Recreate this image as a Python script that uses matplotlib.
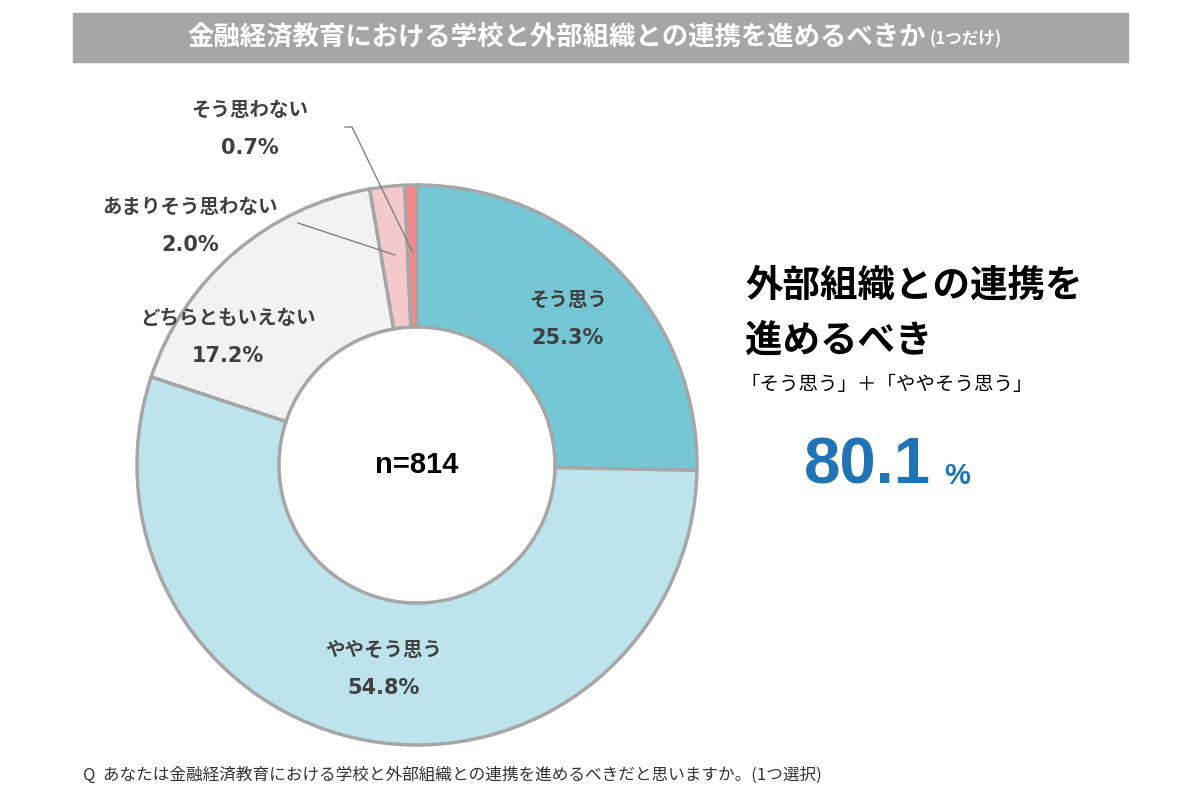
import matplotlib.pyplot as plt
from matplotlib.patches import Rectangle

plt.rcParams['font.family'] = ['Noto Sans CJK JP', 'DejaVu Sans']

# ---- data ----
labels = ["そう思う", "ややそう思う", "どちらともいえない", "あまりそう思わない", "そう思わない"]
values = [25.3, 54.8, 17.2, 2.0, 0.7]
colors = ["#76C7D6", "#BDE3EC", "#F2F2F2", "#F4C9CB", "#F98585"]
n_total = 814
agree_total = 80.1

title = "金融経済教育における学校と外部組織との連携を進めるべきか"
title_sub = "(1つだけ)"
question = "Q  あなたは金融経済教育における学校と外部組織との連携を進めるべきだと思いますか。(1つ選択)"

# label positions in pixels (x, y from top)
lab_pos = [(568, 300), (384, 650), (228, 318), (190, 207), (250, 110)]

fig = plt.figure(figsize=(12, 8), dpi=100)
ax = fig.add_axes([0, 0, 1, 1])

H = 800
ax.pie(values, colors=colors, startangle=90, counterclock=False,
       center=(417, H - 465), radius=280, frame=True,
       wedgeprops=dict(width=142, edgecolor="#A6A6A6", linewidth=2.5))
ax.set_xlim(0, 1200)
ax.set_ylim(0, H)
ax.set_aspect('equal')
ax.axis('off')

# title bar
ax.add_patch(Rectangle((73, H - 62), 1055, 49, color="#A6A6A6", zorder=1))
ax.text(926, H - 38, title, ha='right', va='center', color='white',
        fontsize=19, fontweight='bold', zorder=2)
ax.text(930, H - 39, title_sub, ha='left', va='center', color='white',
        fontsize=12, fontweight='bold', zorder=2)

# slice labels
for (x, y), lab, v in zip(lab_pos, labels, values):
    ax.text(x, H - y, lab, ha='center', va='center', fontsize=14,
            fontweight='bold', color='#404040')
    ax.text(x, H - y - 38, f"{v:.1f}%", ha='center', va='center', fontsize=15,
            fontweight='bold', color='#404040', family=['DejaVu Sans'])

# leader lines
ax.plot([298, 395], [H - 223, H - 255], color='#808080', lw=1)
ax.plot([345, 352, 413], [H - 127, H - 127, H - 253], color='#808080', lw=1)

ax.text(417, H - 465, f"n={n_total}", ha='center', va='center', fontsize=21,
        fontweight='bold', color='black', family=['Liberation Sans', 'DejaVu Sans'])

# right side annotation
ax.text(745, H - 285, "外部組織との連携を", ha='left', va='center', fontsize=27,
        fontweight='bold', color='black')
ax.text(745, H - 340, "進めるべき", ha='left', va='center', fontsize=27,
        fontweight='bold', color='black')
ax.text(740, H - 385, "「そう思う」＋「ややそう思う」", ha='left', va='center',
        fontsize=14, color='black')
ax.text(804, H - 484, f"{agree_total:.1f}", ha='left', va='baseline', fontsize=47,
        fontweight='bold', color='#1F73B7', family=['Liberation Sans', 'DejaVu Sans'])
ax.text(944, H - 484, "%", ha='left', va='baseline', fontsize=21,
        fontweight='bold', color='#1F73B7', family=['Liberation Sans', 'DejaVu Sans'])

ax.text(83, H - 775, question, ha='left', va='center', fontsize=12, color='#333333')

fig.savefig("out.png", dpi=100)
